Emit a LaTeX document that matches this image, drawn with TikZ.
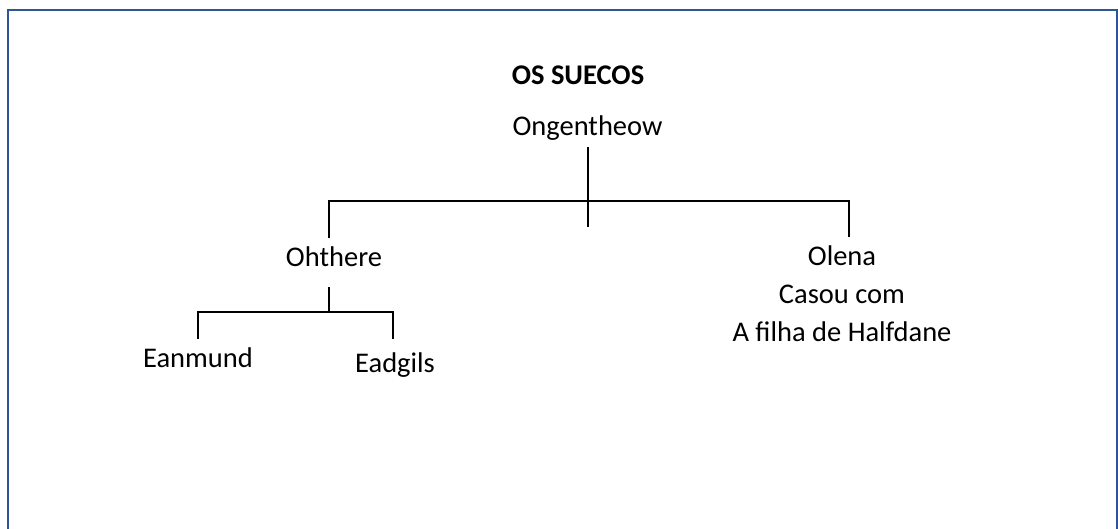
\documentclass[tikz,border=0pt]{standalone}
\usepackage{fontspec}
\setmainfont{Carlito}
\begin{document}
\begin{tikzpicture}[x=1pt,y=-1pt,
  person/.style={inner sep=0pt,anchor=base,font=\fontsize{28.5}{38}\selectfont},
  heading/.style={person,font=\fontsize{28.5}{38}\selectfont\bfseries},
  link/.style={line width=2pt,black},
  frame/.style={line width=2.2pt,draw={rgb,255:red,47;green,85;blue,151}}]
\useasboundingbox (0,0) rectangle (1118,529);
% page frame (open at the bottom)
\draw[frame] (8,529) -- (8,10) -- (1117,10) -- (1117,529);

% names
\node[heading] (title) at (578,85) {OS SUECOS};
\node[person] (ong) at (587.5,136) {Ongentheow};
\node[person] (oht) at (334,266) {Ohthere};
% the base anchor of a multi-line node sits on its last line
\node[person,align=center] (olena) at (842,341) {Olena\\Casou com\\A filha de Halfdane};
\node[person] (ean) at (198,367) {Eanmund};
\node[person] (ead) at (395,372) {Eadgils};

% junction points of the family lines
\coordinate (a1) at (588,147);
\coordinate (a2) at (588,227);
\coordinate (bl) at (329,201);
\coordinate (br) at (849,201);
\coordinate (blend) at (329,238);
\coordinate (brend) at (849,237);
\coordinate (c1) at (329,287);
\coordinate (c2) at (329,312);
\coordinate (cl) at (198,312);
\coordinate (cr) at (393,312);
\coordinate (clend) at (198,339);
\coordinate (crend) at (393,339);

% Ongentheow's children
\draw[link] (a1) -- (a2);
\draw[link] (blend) -- (bl) -- (br) -- (brend);
% Ohthere's children
\draw[link] (c1) -- (c2);
\draw[link] (clend) -- (cl) -- (cr) -- (crend);
\end{tikzpicture}
\end{document}
